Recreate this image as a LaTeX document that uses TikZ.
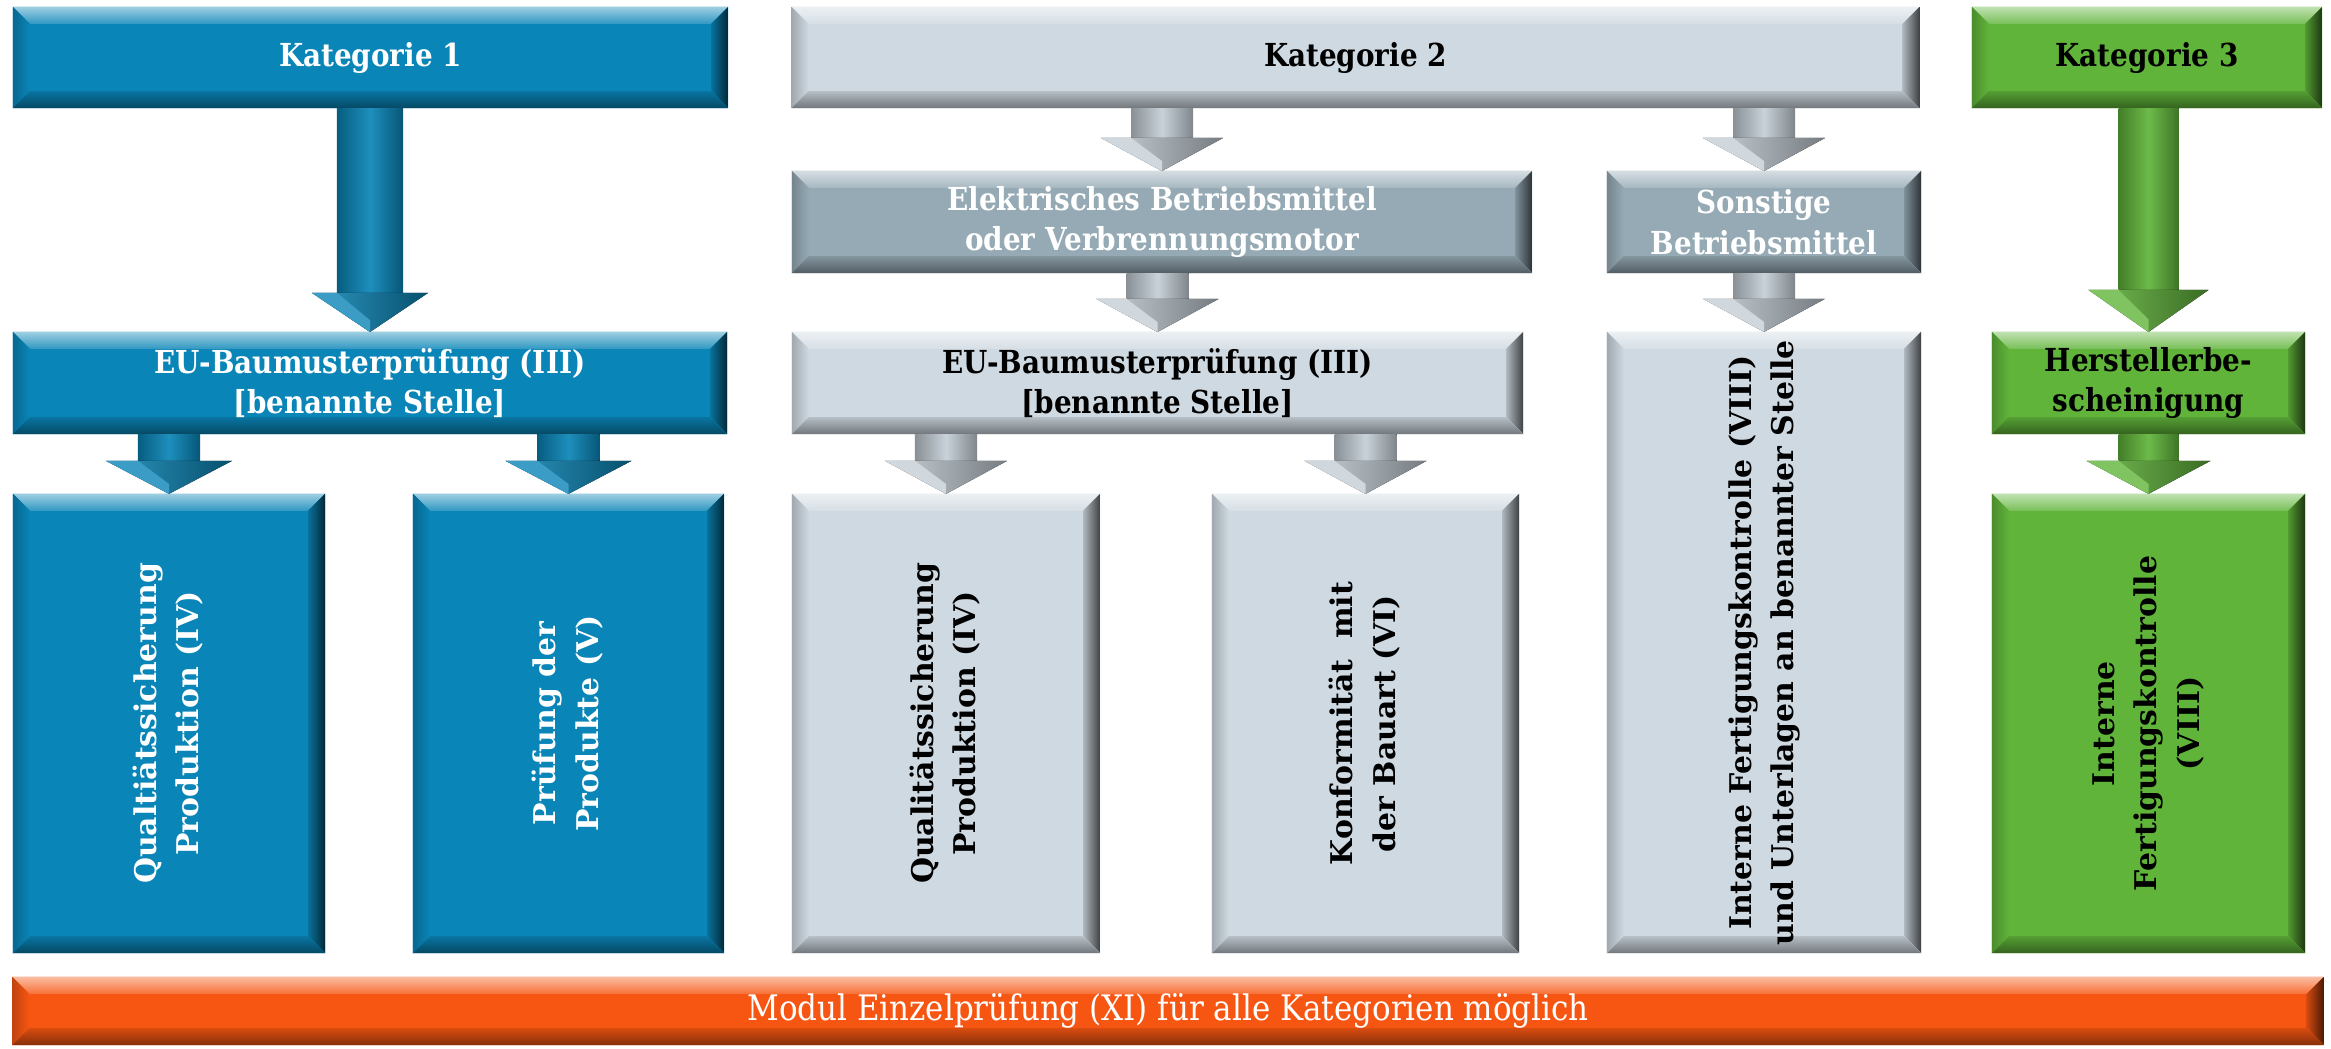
\documentclass[tikz,border=0pt]{standalone}
\usepackage{fontspec}
\setmainfont{DejaVu Serif}
\newfontfamily\hfont[FakeStretch=0.88]{DejaVu Serif}
\usetikzlibrary{calc}
\definecolor{cblue}{RGB}{10,133,183}
\definecolor{clgrey}{RGB}{207,217,225}
\definecolor{cdgrey}{RGB}{150,170,181}
\definecolor{cgreen}{RGB}{96,180,58}
\definecolor{corange}{RGB}{246,86,18}
\definecolor{carrowgrey}{RGB}{196,206,214}
\newcommand\bevw{0.17cm}
\newcommand\vtext[1]{\rotatebox{90}{\fontsize{8.5}{12}\selectfont\bfseries\begin{tabular}{@{}c@{}}#1\end{tabular}}}
% block arrow: #1 colour, #2 source node, #3 target node, #4 shaft half width, #5 head half width, #6 head length
\newcommand\blockarrow[6]{%
  \fill[left color=#1!70!black, right color=#1!65!black, middle color=#1!92!white]
    let \p1=(#3.north |- #2.south), \p2=(#3.north) in
    (\x1-#4,\y1) rectangle (\x2+#4,\y2+#6);
  \fill[left color=#1!85!white, right color=#1!60!black]
    let \p2=(#3.north) in
    (\x2-#5,\y2+#6) -- (\x2+#5,\y2+#6) -- (\x2,\y2) -- cycle;
  \fill[#1!80!white]
    let \p2=(#3.north) in
    (\x2-#5,\y2+#6) -- (\x2-#4,\y2+#6) -- (\x2,\y2+0.3*#6) -- (\x2,\y2) -- cycle;
}
\tikzset{
  bev/.style={fill=#1, draw=none, inner sep=0pt, outer sep=0pt,
    path picture={
      \coordinate (pNW) at (path picture bounding box.north west);
      \coordinate (pNE) at (path picture bounding box.north east);
      \coordinate (pSW) at (path picture bounding box.south west);
      \coordinate (pSE) at (path picture bounding box.south east);
      \coordinate (iNW) at ($(pNW)+(\bevw,-\bevw)$);
      \coordinate (iNE) at ($(pNE)+(-\bevw,-\bevw)$);
      \coordinate (iSW) at ($(pSW)+(\bevw,\bevw)$);
      \coordinate (iSE) at ($(pSE)+(-\bevw,\bevw)$);
      \fill[top color=#1!40!white, bottom color=#1!85!white] (pNW) -- (pNE) -- (iNE) -- (iNW) -- cycle;
      \fill[left color=#1!78!black, right color=#1] (pNW) -- (iNW) -- (iSW) -- (pSW) -- cycle;
      \fill[left color=#1!85!black, right color=#1!30!black] (pNE) -- (pSE) -- (iSE) -- (iNE) -- cycle;
      \fill[top color=#1!88!black, bottom color=#1!55!black] (iSW) -- (iSE) -- (pSE) -- (pSW) -- cycle;
    }},
  htxt/.style={font=\hfont\bfseries\fontsize{9}{11.5}\selectfont, align=center},
  wtxt/.style={htxt, text=white},
  btxt/.style={htxt, text=black},
}
\begin{document}
\begin{tikzpicture}[x=0.01cm, y=-0.01cm]
\fill[white] (0,0) rectangle (2331,1049);
\useasboundingbox (0,0) rectangle (2331,1049);

% top row
\node[bev=cblue, wtxt, minimum width=7.15cm, minimum height=1.01cm] (k1) at (370.5,57.5) {Kategorie 1};
\node[bev=clgrey, btxt, minimum width=11.27cm, minimum height=1.01cm] (k2) at (1355.5,57.5) {Kategorie 2};
\node[bev=cgreen, btxt, minimum width=3.50cm, minimum height=1.01cm] (k3) at (2147,57.5) {Kategorie 3};

% second row
\node[bev=cdgrey, wtxt, minimum width=7.40cm, minimum height=1.02cm] (el) at (1162,222) {Elektrisches Betriebsmittel\\oder Verbrennungsmotor};
\node[bev=cdgrey, wtxt, minimum width=3.14cm, minimum height=1.02cm] (so) at (1764,222) {Sonstige\\Betriebsmittel};

% third row
\node[bev=cblue, wtxt, minimum width=7.14cm, minimum height=1.02cm] (eu1) at (370,383) {EU-Baumusterprüfung (III)\\{[}benannte Stelle{]}};
\node[bev=clgrey, btxt, minimum width=7.31cm, minimum height=1.02cm] (eu2) at (1157.5,383) {EU-Baumusterprüfung (III)\\{[}benannte Stelle{]}};
\node[bev=clgrey, text=black, minimum width=3.14cm, minimum height=6.21cm] (ifk) at (1764,642.5) {\vtext{Interne Fertigungskontrolle (VIII)\\und Unterlagen an benannter Stelle}};
\node[bev=cgreen, btxt, minimum width=3.13cm, minimum height=1.02cm] (hb) at (2148.5,383) {Herstellerbe-\\scheinigung};

% bottom row
\node[bev=cblue, text=white, minimum width=3.12cm, minimum height=4.59cm] (q1) at (169,723.5) {\vtext{Qualtiätssicherung\\Produktion (IV)}};
\node[bev=cblue, text=white, minimum width=3.11cm, minimum height=4.59cm] (p1) at (568.5,723.5) {\vtext{Prüfung der\\Produkte (V)}};
\node[bev=clgrey, text=black, minimum width=3.08cm, minimum height=4.59cm] (q2) at (946,723.5) {\vtext{Qualitätssicherung\\Produktion (IV)}};
\node[bev=clgrey, text=black, minimum width=3.07cm, minimum height=4.59cm] (ko) at (1365.5,723.5) {\vtext{Konformität\ \ mit\\der Bauart (VI)}};
\node[bev=cgreen, text=black, minimum width=3.13cm, minimum height=4.59cm] (gr) at (2148.5,723.5) {\vtext{Interne\\Fertigungskontrolle\\(VIII)}};

% module bar
\node[bev=corange, text=white, font=\hfont\fontsize{10}{12}\selectfont, minimum width=23.10cm, minimum height=0.68cm] (mod) at (1168,1011) {Modul Einzelprüfung (XI) für alle Kategorien möglich};

% arrows
\blockarrow{cblue}{k1}{eu1}{0.33cm}{0.58cm}{0.39cm}
\blockarrow{cblue}{eu1}{q1}{0.31cm}{0.63cm}{0.33cm}
\blockarrow{cblue}{eu1}{p1}{0.31cm}{0.63cm}{0.33cm}
\blockarrow{carrowgrey}{k2}{el}{0.31cm}{0.61cm}{0.33cm}
\blockarrow{carrowgrey}{k2}{so}{0.31cm}{0.61cm}{0.33cm}
\blockarrow{carrowgrey}{el}{eu2}{0.31cm}{0.61cm}{0.33cm}
\blockarrow{carrowgrey}{so}{ifk}{0.31cm}{0.61cm}{0.33cm}
\blockarrow{carrowgrey}{eu2}{q2}{0.31cm}{0.61cm}{0.33cm}
\blockarrow{carrowgrey}{eu2}{ko}{0.31cm}{0.61cm}{0.33cm}
\blockarrow{cgreen}{k3}{hb}{0.30cm}{0.60cm}{0.42cm}
\blockarrow{cgreen}{hb}{gr}{0.30cm}{0.62cm}{0.33cm}
\end{tikzpicture}
\end{document}
